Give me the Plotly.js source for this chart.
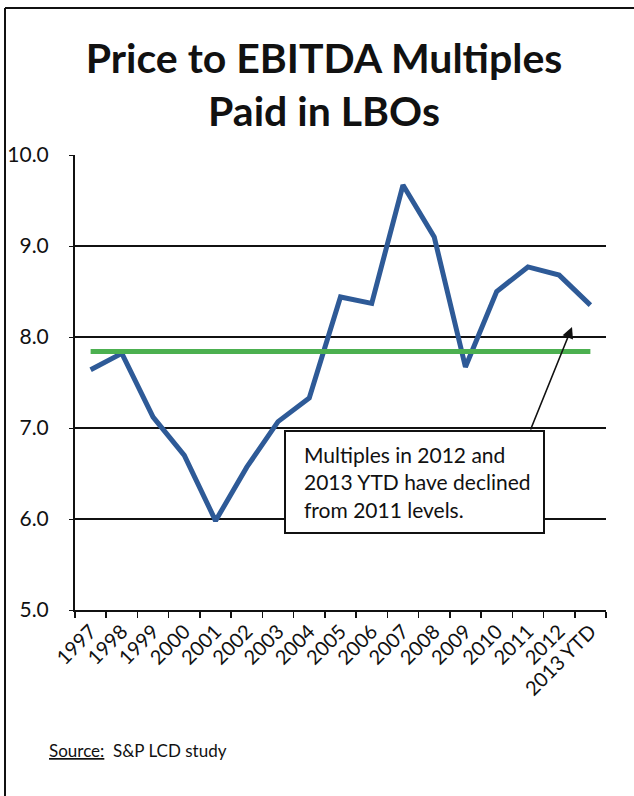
<!DOCTYPE html>
<html>
<head>
<meta charset="utf-8">
<script src="https://cdn.plot.ly/plotly-3.0.1.min.js"></script>
<style>html,body{margin:0;padding:0;background:#fff;}#chart{width:634px;height:796px;}</style>
</head>
<body>
<div id="chart"></div>
<script>
const years = ['1997','1998','1999','2000','2001','2002','2003','2004','2005','2006','2007','2008','2009','2010','2011','2012','2013 YTD'];
const multiples = [7.64, 7.82, 7.12, 6.70, 5.98, 6.57, 7.07, 7.33, 8.44, 8.37, 9.67, 9.10, 7.67, 8.50, 8.77, 8.68, 8.35];
const averageValue = 7.84;
const averageLine = years.map(() => averageValue);
const yTicks = [5, 6, 7, 8, 9, 10];

const L = 75, R = 606, T = 155, B = 610;
const W = R - L, H = B - T;
const px = x => (x - L) / W;
const py = y => (B - y) / H;

const traces = [
  {x: years, y: multiples, type: 'scatter', mode: 'lines',
   line: {color: '#2E5A97', width: 5}, hoverinfo: 'skip'},
  {x: years, y: averageLine, type: 'scatter', mode: 'lines',
   line: {color: '#4CB050', width: 5}, hoverinfo: 'skip'}
];

const layout = {
  width: 634, height: 796,
  margin: {l: L, r: 634 - R, t: T, b: 796 - B},
  paper_bgcolor: '#fff', plot_bgcolor: '#fff',
  showlegend: false,
  font: {family: 'Lato, "Open Sans", sans-serif', color: '#111'},
  title: {
    text: '<b>Price to EBITDA Multiples<br>Paid in LBOs</b>',
    font: {family: 'Lato, "Open Sans", sans-serif', size: 41, color: '#111'},
    x: 324 / 634, xanchor: 'center', xref: 'container',
    y: 1 - 73 / 796, yanchor: 'top', yref: 'container'
  },
  xaxis: {
    type: 'category', range: [-0.5, 16.5], tickson: 'boundaries',
    showgrid: false, showline: true, linecolor: '#111', linewidth: 2,
    ticks: 'outside', ticklen: 6, tickwidth: 1.5, tickcolor: '#111',
    tickangle: -45, tickfont: {size: 20, color: '#111'}, fixedrange: true
  },
  yaxis: {
    range: [5, 10], tickvals: yTicks, tickformat: '.1f',
    showgrid: true, gridcolor: '#111', gridwidth: 1.5,
    showline: true, linecolor: '#111', linewidth: 2,
    ticks: 'outside', ticklen: 4, tickcolor: '#111',
    tickfont: {size: 21, color: '#111'}, ticklabelstandoff: 16,
    zeroline: false, fixedrange: true
  },
  shapes: [
    {type: 'line', xref: 'paper', yref: 'paper', x0: px(5), x1: px(5), y0: py(8), y1: py(796), line: {color: '#111', width: 2}},
    {type: 'line', xref: 'paper', yref: 'paper', x0: px(5), x1: px(640), y0: py(8), y1: py(8), line: {color: '#111', width: 2}},
    {type: 'rect', xref: 'paper', yref: 'paper', layer: 'above', x0: px(285), x1: px(544), y0: py(431), y1: py(533),
     fillcolor: '#fff', line: {color: '#111', width: 2}}
  ],
  annotations: [
    {xref: 'paper', yref: 'paper', x: px(572), y: py(327), text: '',
     showarrow: true, arrowhead: 2, arrowsize: 1.4, arrowwidth: 1.6, arrowcolor: '#111',
     axref: 'pixel', ayref: 'pixel', ax: 530 - 572, ay: 431 - 327, standoff: 0},
    {xref: 'paper', yref: 'paper', x: px(302), y: py(482), xanchor: 'left', yanchor: 'middle',
     text: 'Multiples in 2012 and<br>2013 YTD have declined<br>from 2011 levels.',
     align: 'left', showarrow: false, font: {size: 21, color: '#111'}},
    {xref: 'paper', yref: 'paper', x: px(47), y: py(750), xanchor: 'left', yanchor: 'middle',
     text: '<u>Source:</u>\u00a0 S&amp;P LCD study', showarrow: false,
     font: {size: 17, color: '#111'}}
  ]
};

Plotly.newPlot('chart', traces, layout, {staticPlot: true, displayModeBar: false});
</script>
</body>
</html>
